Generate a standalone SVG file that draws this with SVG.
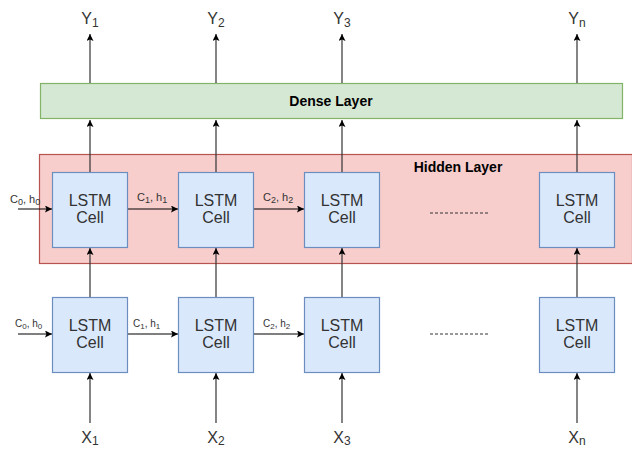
<svg xmlns="http://www.w3.org/2000/svg" width="632" height="449" viewBox="0 0 632 449">
<defs>
<marker id="ah" viewBox="0 0 10 10" refX="10" refY="5" markerWidth="7" markerHeight="7" markerUnits="userSpaceOnUse" orient="auto">
<path d="M0,0 L10,5 L0,10 L2,5 Z" fill="#000"/>
</marker>
<style>
.t{font-family:"Liberation Sans",Arial,sans-serif;fill:#333;}
.cell{fill:#dae8fc;stroke:#6c8ebf;stroke-width:1.2;}
.cl{font-size:16px;text-anchor:middle;}
.io{font-size:16px;text-anchor:middle;}
.ln{stroke:#333;stroke-width:1.2;fill:none;marker-end:url(#ah);}
.hl{stroke:#000;stroke-width:1.2;fill:none;marker-end:url(#ah);}
.dash{stroke:#333;stroke-width:1;stroke-dasharray:3,2;}
.lab1{font-size:11px;}
.lab2{font-size:10px;}
</style>
</defs>
<rect width="632" height="449" fill="#fff"/>
<g id="hidden-layer">
<rect x="39.5" y="154.5" width="593" height="109" fill="#f8cecc" stroke="#b85450" stroke-width="1.2"/>
<text class="t" x="458" y="172" font-size="14" font-weight="bold" text-anchor="middle" style="fill:#000">Hidden Layer</text>
</g>
<g id="dense-layer">
<rect x="40.5" y="83.5" width="582" height="35" fill="#d5e8d4" stroke="#82b366" stroke-width="1.2"/>
<text class="t" x="331" y="106" font-size="14" font-weight="bold" text-anchor="middle" style="fill:#000">Dense Layer</text>
</g>
<g id="connectors">
<line class="ln" x1="90" y1="83" x2="90" y2="34"/>
<line class="ln" x1="216" y1="83" x2="216" y2="34"/>
<line class="ln" x1="342" y1="83" x2="342" y2="34"/>
<line class="ln" x1="577" y1="83" x2="577" y2="34"/>
<line class="ln" x1="90" y1="172" x2="90" y2="120"/>
<line class="ln" x1="216" y1="172" x2="216" y2="120"/>
<line class="ln" x1="342" y1="172" x2="342" y2="120"/>
<line class="ln" x1="577" y1="172" x2="577" y2="120"/>
<line class="ln" x1="90" y1="297" x2="90" y2="248"/>
<line class="ln" x1="216" y1="297" x2="216" y2="248"/>
<line class="ln" x1="342" y1="297" x2="342" y2="248"/>
<line class="ln" x1="577" y1="297" x2="577" y2="248"/>
<line class="ln" x1="90" y1="423" x2="90" y2="373"/>
<line class="ln" x1="216" y1="423" x2="216" y2="373"/>
<line class="ln" x1="342" y1="423" x2="342" y2="373"/>
<line class="ln" x1="577" y1="423" x2="577" y2="373"/>
<line class="hl" x1="18" y1="209" x2="52" y2="209"/>
<line class="hl" x1="128" y1="209" x2="178" y2="209"/>
<line class="hl" x1="254" y1="209" x2="304" y2="209"/>
<line class="hl" x1="18" y1="334" x2="52" y2="334"/>
<line class="hl" x1="128" y1="334" x2="178" y2="334"/>
<line class="hl" x1="254" y1="334" x2="304" y2="334"/>
<line class="dash" x1="430" y1="213" x2="488" y2="213"/>
<line class="dash" x1="430" y1="334" x2="488" y2="334"/>
<text class="t lab1" x="10" y="203">C<tspan font-size="9" dy="2">0</tspan><tspan dy="-2">, h</tspan><tspan font-size="9" dy="2">0</tspan></text>
<text class="t lab1" x="137" y="201">C<tspan font-size="9" dy="2">1</tspan><tspan dy="-2">, h</tspan><tspan font-size="9" dy="2">1</tspan></text>
<text class="t lab1" x="263" y="201">C<tspan font-size="9" dy="2">2</tspan><tspan dy="-2">, h</tspan><tspan font-size="9" dy="2">2</tspan></text>
<text class="t lab2" x="15" y="327">C<tspan font-size="8" dy="2">0</tspan><tspan dy="-2">, h</tspan><tspan font-size="8" dy="2">0</tspan></text>
<text class="t lab2" x="133" y="327">C<tspan font-size="8" dy="2">1</tspan><tspan dy="-2">, h</tspan><tspan font-size="8" dy="2">1</tspan></text>
<text class="t lab2" x="263" y="327">C<tspan font-size="8" dy="2">2</tspan><tspan dy="-2">, h</tspan><tspan font-size="8" dy="2">2</tspan></text>
</g>
<g id="h1"><rect class="cell" x="52.5" y="172.5" width="75" height="75"/><text class="t cl" x="90" y="206">LSTM</text><text class="t cl" x="90" y="223">Cell</text></g>
<g id="h2"><rect class="cell" x="178.5" y="172.5" width="75" height="75"/><text class="t cl" x="216" y="206">LSTM</text><text class="t cl" x="216" y="223">Cell</text></g>
<g id="h3"><rect class="cell" x="304.5" y="172.5" width="75" height="75"/><text class="t cl" x="342" y="206">LSTM</text><text class="t cl" x="342" y="223">Cell</text></g>
<g id="hn"><rect class="cell" x="539.5" y="172.5" width="75" height="75"/><text class="t cl" x="577" y="206">LSTM</text><text class="t cl" x="577" y="223">Cell</text></g>
<g id="b1"><rect class="cell" x="52.5" y="297.5" width="75" height="75"/><text class="t cl" x="90" y="331">LSTM</text><text class="t cl" x="90" y="348">Cell</text></g>
<g id="b2"><rect class="cell" x="178.5" y="297.5" width="75" height="75"/><text class="t cl" x="216" y="331">LSTM</text><text class="t cl" x="216" y="348">Cell</text></g>
<g id="b3"><rect class="cell" x="304.5" y="297.5" width="75" height="75"/><text class="t cl" x="342" y="331">LSTM</text><text class="t cl" x="342" y="348">Cell</text></g>
<g id="bn"><rect class="cell" x="539.5" y="297.5" width="75" height="75"/><text class="t cl" x="577" y="331">LSTM</text><text class="t cl" x="577" y="348">Cell</text></g>
<g id="y1"><text class="t io" x="90" y="24">Y<tspan font-size="12" dy="3">1</tspan></text></g>
<g id="y2"><text class="t io" x="216" y="24">Y<tspan font-size="12" dy="3">2</tspan></text></g>
<g id="y3"><text class="t io" x="342" y="24">Y<tspan font-size="12" dy="3">3</tspan></text></g>
<g id="yn"><text class="t io" x="577" y="24">Y<tspan font-size="12" dy="3">n</tspan></text></g>
<g id="x1"><text class="t io" x="90" y="443">X<tspan font-size="12" dy="2">1</tspan></text></g>
<g id="x2"><text class="t io" x="216" y="443">X<tspan font-size="12" dy="2">2</tspan></text></g>
<g id="x3"><text class="t io" x="342" y="443">X<tspan font-size="12" dy="2">3</tspan></text></g>
<g id="xn"><text class="t io" x="577" y="443">X<tspan font-size="12" dy="2">n</tspan></text></g>
</svg>
